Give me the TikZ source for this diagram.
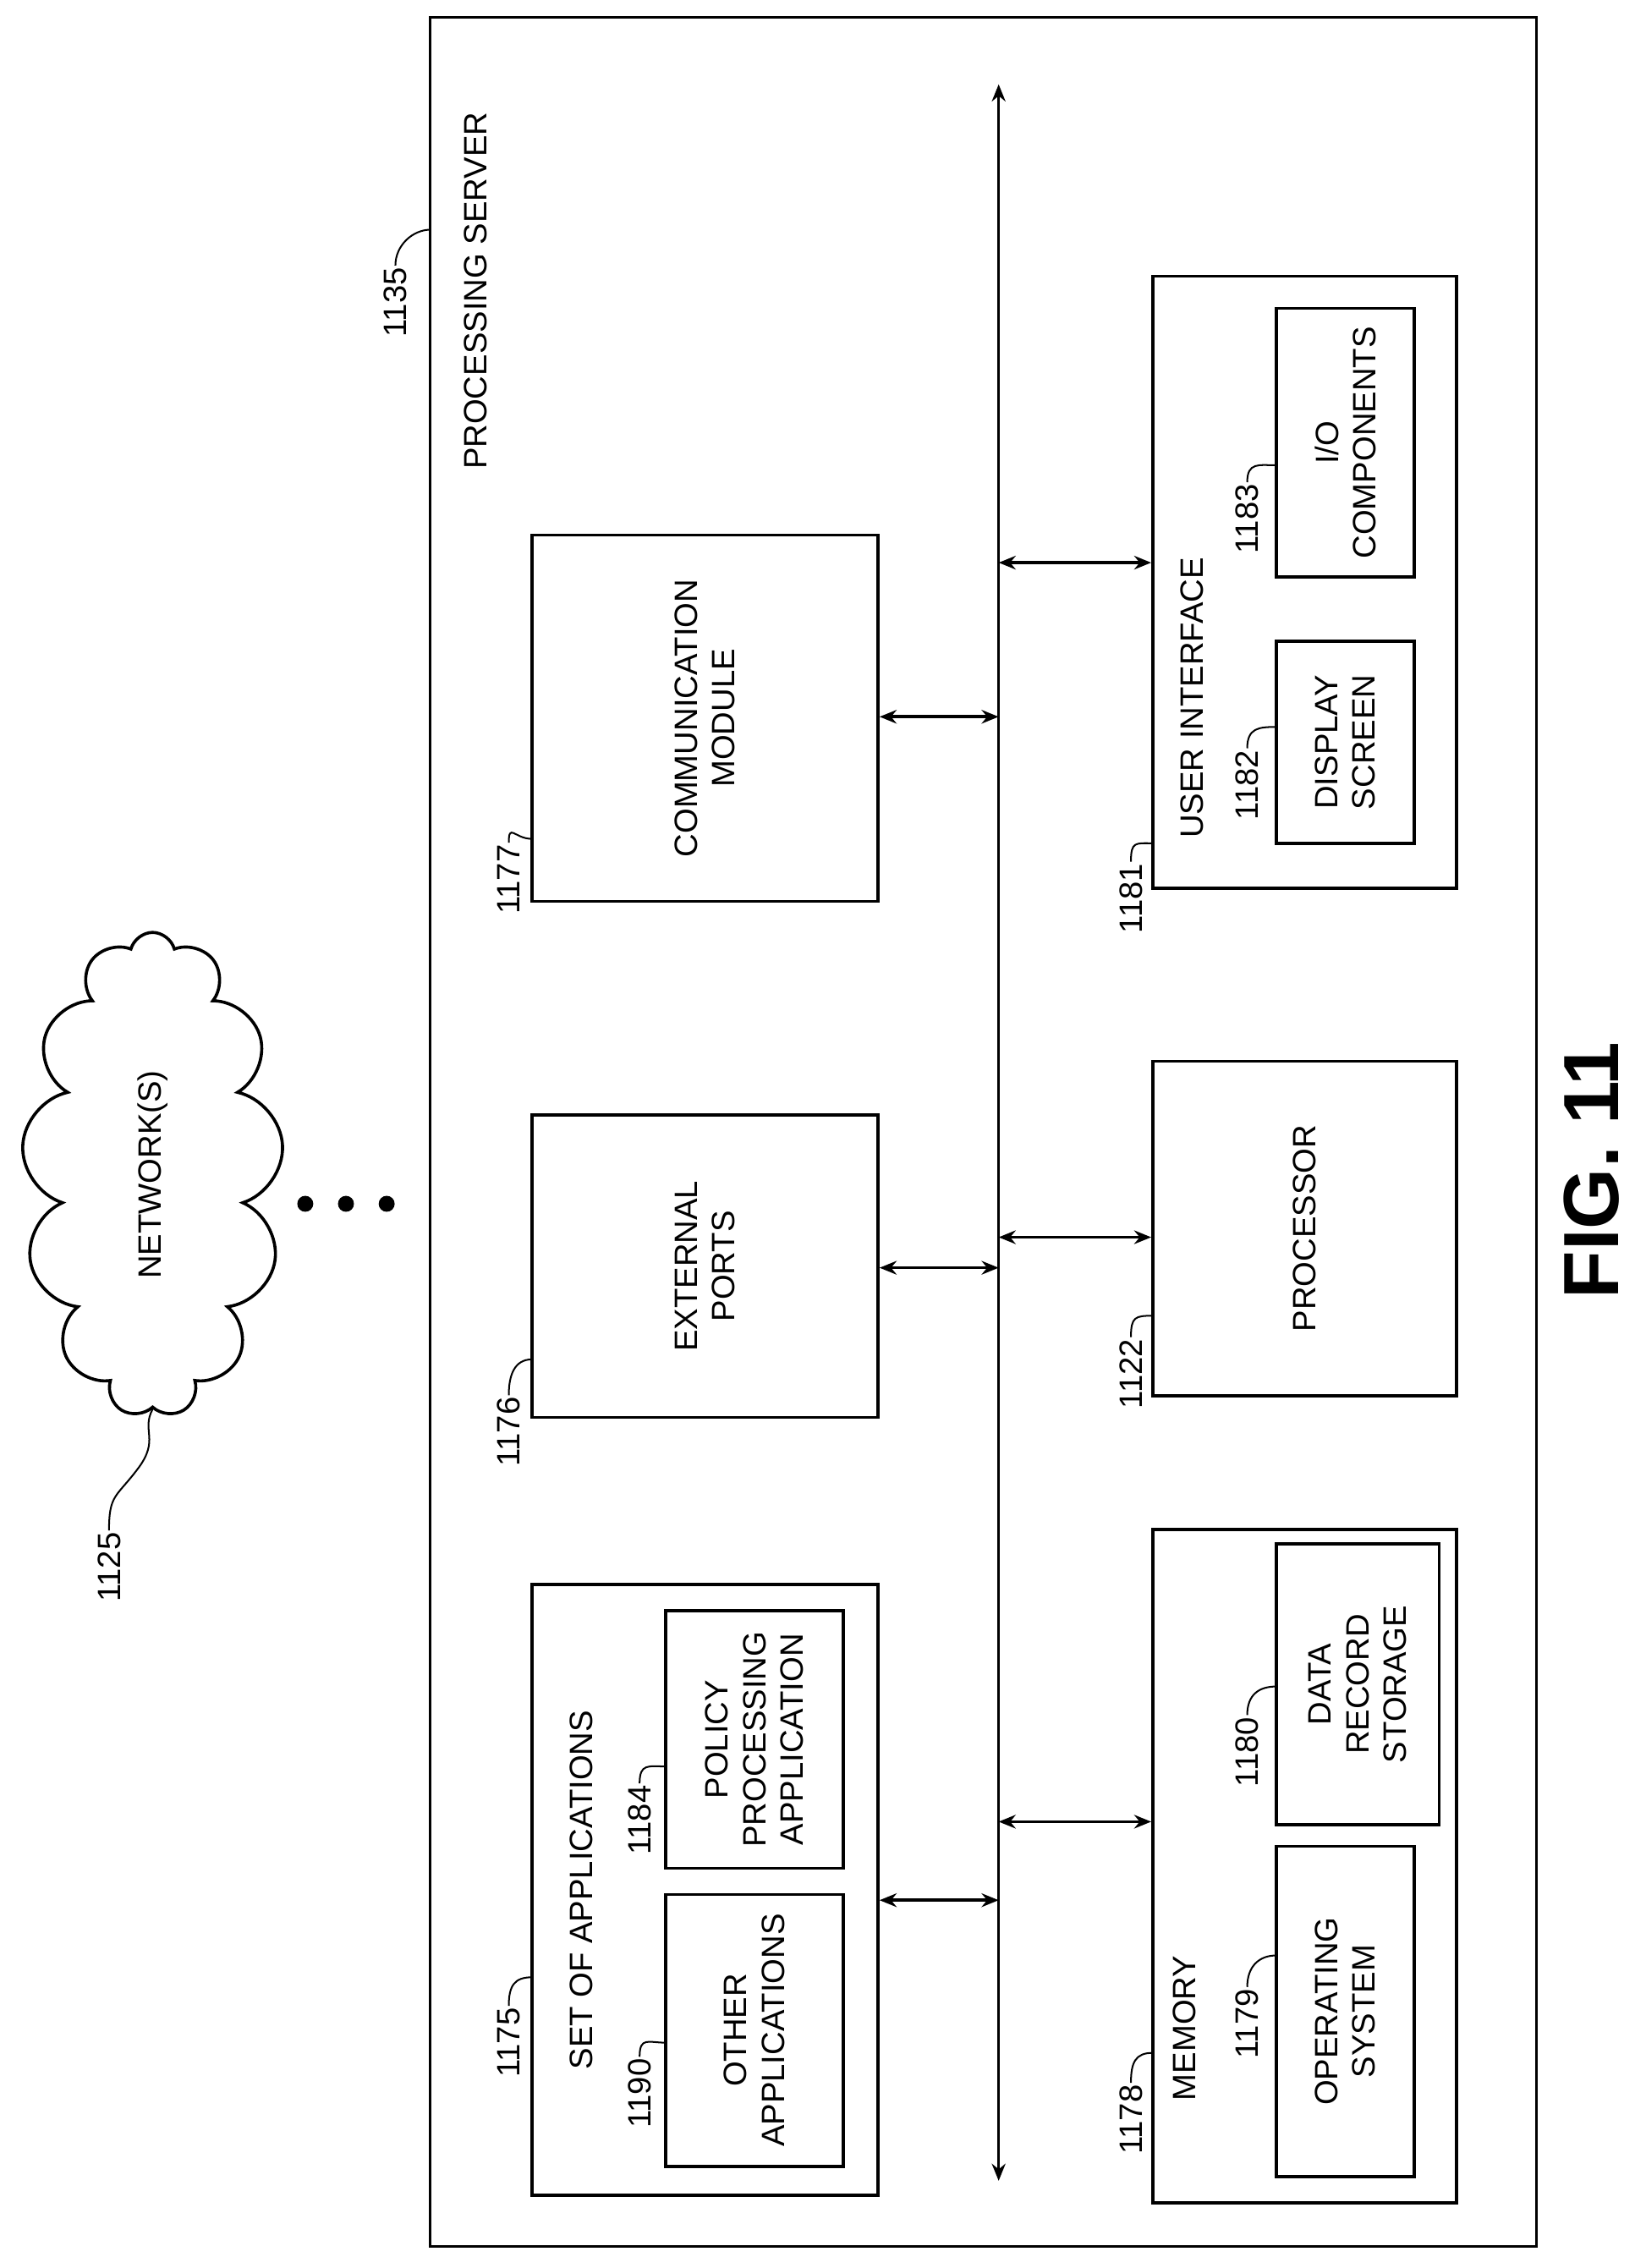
\documentclass[tikz,border=0pt]{standalone}
\usepackage{fontspec}
\setmainfont{Liberation Sans}
\usetikzlibrary{shapes.symbols,arrows.meta}
\begin{document}
\begin{tikzpicture}[x=0.03cm,y=-0.03cm,
  every node/.style={font=\fontsize{19}{22}\selectfont},
  box/.style={draw,line width=1.8pt,inner sep=0pt},
  txt/.style={rotate=90,align=center},
  lab/.style={rotate=90,inner sep=1pt},
  arr/.style={line width=1.8pt,{Stealth[length=10pt,width=8pt]}-{Stealth[length=10pt,width=8pt]}},
  sq/.style={line width=1pt}]
\useasboundingbox (0,0) rectangle (1132,1560);
% outer
\node[box,minimum width=22.83cm,minimum height=45.99cm] (srv) at (676.5,778.5) {};
\node[txt] (srvt) at (327,200) {PROCESSING SERVER};
% bus
\coordinate (bt) at (687,58); \coordinate (bb) at (687,1500);
\draw[arr] (bt) -- (bb);
% left column
\node[box,minimum width=7.14cm,minimum height=7.56cm] (comm) at (485,494) {};
\node[txt] at (comm) {COMMUNICATION\\MODULE};
\node[box,minimum width=7.14cm,minimum height=6.24cm] (ext) at (485,871) {};
\node[txt] at (ext) {EXTERNAL\\PORTS};
\node[box,minimum width=7.14cm,minimum height=12.6cm] (set) at (485,1300) {};
\node[txt] at (400,1300) {SET OF APPLICATIONS};
\node[box,minimum width=3.66cm,minimum height=5.61cm] (oth) at (519,1396.5) {};
\node[txt] at (oth) {OTHER\\APPLICATIONS};
\node[box,minimum width=3.66cm,minimum height=5.31cm] (pol) at (519,1196.5) {};
\node[txt] at (pol) {POLICY\\PROCESSING\\APPLICATION};
% right column
\node[box,minimum width=6.27cm,minimum height=13.89cm] (mem) at (897.5,1283.5) {};
\node[txt] at (815,1395) {MEMORY};
\node[box,minimum width=2.85cm,minimum height=6.81cm] (os) at (925.5,1383.5) {};
\node[txt] at (os) {OPERATING\\SYSTEM};
\node[box,minimum width=3.36cm,minimum height=5.79cm] (drs) at (934,1158.5) {};
\node[txt] at (drs) {DATA\\RECORD\\STORAGE};
\node[box,minimum width=6.27cm,minimum height=6.9cm] (proc) at (897.5,845) {};
\node[txt] at (proc) {PROCESSOR};
\node[box,minimum width=6.27cm,minimum height=12.63cm] (ui) at (897.5,400.5) {};
\node[txt] at (820,480) {USER INTERFACE};
\node[box,minimum width=2.85cm,minimum height=4.17cm] (disp) at (925.5,510.5) {};
\node[txt] at (disp) {DISPLAY\\SCREEN};
\node[box,minimum width=2.85cm,minimum height=5.55cm] (io) at (925.5,304.5) {};
\node[txt] at (io) {I/O\\COMPONENTS};
% arrows to bus
\coordinate (b1) at (687,493); \coordinate (b2) at (687,872); \coordinate (b3) at (687,1307);
\coordinate (b4) at (687,387); \coordinate (b5) at (687,851); \coordinate (b6) at (687,1253);
\draw[arr] (comm.east |- b1) -- (b1);
\draw[arr] (ext.east |- b2) -- (b2);
\draw[arr] (set.east |- b3) -- (b3);
\draw[arr] (b4) -- (ui.west |- b4);
\draw[arr] (b5) -- (proc.west |- b5);
\draw[arr] (b6) -- (mem.west |- b6);
% cloud
\node[draw,line width=1.8pt,cloud,cloud puffs=13,cloud ignores aspect,minimum width=5.4cm,minimum height=10cm] (net) at (105,808) {};
\node[txt] at (net) {NETWORK(S)};
\foreach \i/\yy in {d1/210,d2/238,d3/266}{\fill (\yy,828) circle (5.5);}
% labels
\newcommand{\rlab}[5]{\node[lab] (#1) at (#2,#3) {#4};
  \draw[sq] (#1.east) .. controls +(0,-14) and +(-12,0) .. (#5);}
\coordinate (t1135) at (296,158); \rlab{l1135}{272}{208}{1135}{t1135}
\coordinate (t1177) at (366,577); \rlab{l1177}{350}{605}{1177}{t1177}
\coordinate (t1176) at (366,935); \rlab{l1176}{350}{985}{1176}{t1176}
\coordinate (t1175) at (366,1360); \rlab{l1175}{350}{1405}{1175}{t1175}
\coordinate (t1190) at (458,1405); \rlab{l1190}{440}{1440}{1190}{t1190}
\coordinate (t1184) at (458,1215); \rlab{l1184}{440}{1252}{1184}{t1184}
\coordinate (t1178) at (793,1412); \rlab{l1178}{778}{1458}{1178}{t1178}
\coordinate (t1179) at (878,1345); \rlab{l1179}{858}{1392}{1179}{t1179}
\coordinate (t1180) at (878,1160); \rlab{l1180}{858}{1205}{1180}{t1180}
\coordinate (t1122) at (793,905); \rlab{l1122}{778}{945}{1122}{t1122}
\coordinate (t1181) at (793,580); \rlab{l1181}{778}{618}{1181}{t1181}
\coordinate (t1182) at (878,500); \rlab{l1182}{858}{540}{1182}{t1182}
\coordinate (t1183) at (878,320); \rlab{l1183}{858}{357}{1183}{t1183}
\node[lab] (l1125) at (75,1078) {1125};
\draw[sq] (l1125.east) .. controls +(0,-25) and +(-15,20) .. (95,1010) .. controls +(15,-20) and +(-8,15) .. (net.south);
% figure title
\node[rotate=90,font=\bfseries\fontsize{46}{50}\selectfont] at (1095,805) {FIG. 11};
\end{tikzpicture}
\end{document}
